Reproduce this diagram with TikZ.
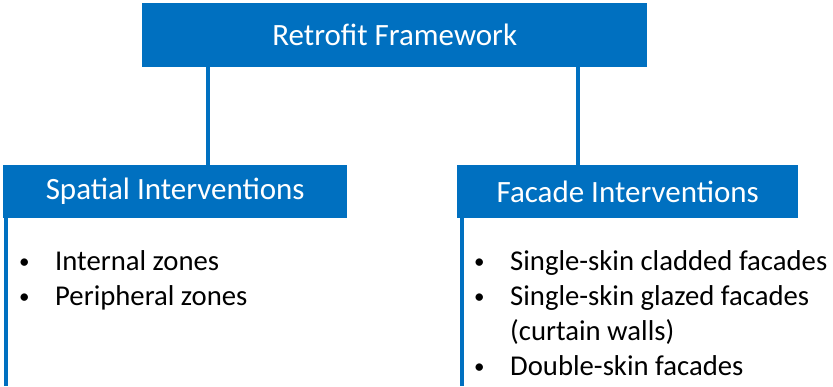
\documentclass[tikz,border=0pt]{standalone}
\usepackage{fontspec}
\setmainfont{Carlito}
\usepackage{tikz}
\definecolor{retroblue}{RGB}{0,112,192}
\newcommand{\listdot}{\raisebox{2pt}{\fontsize{21}{21}\selectfont\textbullet}}

\begin{document}
\begin{tikzpicture}[x=1pt,y=-1pt,
  head/.style={fill=retroblue,text=white,anchor=north west,inner sep=0pt,
    font=\fontsize{31}{37}\selectfont},
  link/.style={draw=retroblue,line width=4pt},
  bullets/.style={anchor=base west,inner sep=0pt,
    font=\fontsize{28.7}{35}\selectfont}]
\useasboundingbox (0,0) rectangle (833,386);
% boxes
\node[head,minimum width=505pt,minimum height=64pt] (frame) at (142,3) {Retrofit Framework};
\node[head,minimum width=344pt,minimum height=53pt] (spatial) at (3,165) {Spatial Interventions};
\node[head,minimum width=341pt,minimum height=53pt] (facade) at (457,165) {Facade Interventions};
% lists
\node[bullets] (spatiallist) at (19,270) {\begin{tabular}[t]{@{}p{36pt}@{}l@{}}
  \listdot & Internal zones\\
  \listdot & Peripheral zones
\end{tabular}};
\node[bullets] (facadelist) at (474,270) {\begin{tabular}[t]{@{}p{36pt}@{}l@{}}
  \listdot & Single-skin cladded facades\\
  \listdot & Single-skin glazed facades\\
   & (curtain walls)\\
  \listdot & Double-skin facades
\end{tabular}};
% connectors
\coordinate (spatialx) at (208,0);
\coordinate (facadex) at (578,0);
\coordinate (spatialend) at (6,386);
\coordinate (facadeend) at (462,386);
\draw[link] (frame.south -| spatialx) -- (spatial.north -| spatialx);
\draw[link] (frame.south -| facadex) -- (facade.north -| facadex);
\draw[link] (spatial.south -| spatialend) -- (spatialend);
\draw[link] (facade.south -| facadeend) -- (facadeend);
\end{tikzpicture}
\end{document}
